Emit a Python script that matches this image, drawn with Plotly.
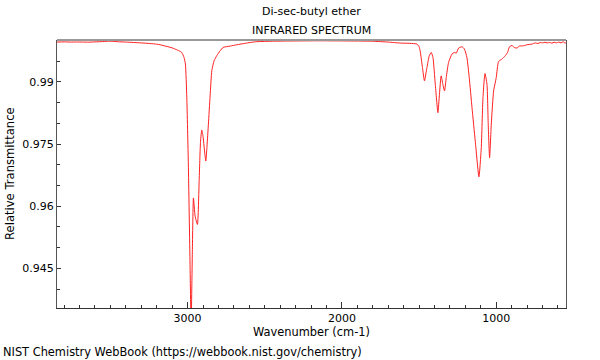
import plotly.graph_objects as go

# Spectrum data (wavenumber in cm-1, relative transmittance)
wavenumber = [3846, 3800, 3760, 3720, 3680, 3640, 3600, 3560, 3520, 3490, 3450, 3400,
              3350, 3300, 3243, 3200, 3178, 3140, 3100, 3070, 3050, 3038, 3023, 3014,
              3005, 2995, 2984, 2977, 2969, 2962, 2951, 2936, 2925, 2916, 2908, 2900,
              2890, 2882, 2874, 2865, 2854, 2843, 2828, 2811, 2789, 2770, 2724, 2681,
              2627, 2595, 2551, 2450, 2350, 2200, 2100, 2000, 1900, 1800, 1700, 1622,
              1560, 1514, 1500, 1493, 1478, 1465, 1449, 1434, 1421, 1410, 1395, 1378,
              1368, 1357, 1346, 1335, 1324, 1309, 1287, 1272, 1259, 1244, 1222, 1206,
              1190, 1175, 1157, 1136, 1112, 1097, 1086, 1073, 1060, 1052, 1043, 1032,
              1017, 1000, 985, 963, 942, 927, 914, 898, 883, 866, 849, 823, 801, 769,
              747, 730, 715, 700, 685, 670, 655, 640, 625, 610, 595, 580, 565, 555, 548]
transmittance = [0.9996, 0.99965, 0.9996, 0.99962, 0.9996, 0.99958, 0.99965, 0.9997, 0.99978, 0.9998, 0.99968, 0.9996,
                 0.9995, 0.9994, 0.99925, 0.9991, 0.99895, 0.9986, 0.9982, 0.99774, 0.9974, 0.9971, 0.9959, 0.9943,
                 0.9862, 0.9702, 0.946, 0.931, 0.949, 0.962, 0.9576, 0.9556, 0.966, 0.9757, 0.9784, 0.9769,
                 0.9733, 0.9709, 0.9745, 0.9798, 0.9866, 0.9927, 0.9951, 0.9963, 0.9975, 0.9983, 0.99864, 0.99895,
                 0.9993, 0.9995, 0.9997, 0.9998, 0.99985, 0.9999, 0.9999, 0.99988, 0.99985, 0.9998, 0.9996, 0.99936,
                 0.9993, 0.99912, 0.9985, 0.9975, 0.99346, 0.99024, 0.99346, 0.99629, 0.99709, 0.99588, 0.98944, 0.98257,
                 0.98702, 0.99145, 0.98944, 0.98782, 0.99104, 0.99467, 0.9967, 0.99709, 0.99694, 0.99815, 0.99847, 0.99791,
                 0.99588, 0.99104, 0.98378, 0.97573, 0.96709, 0.9741, 0.9862, 0.99201, 0.98944, 0.97984, 0.97169, 0.97984,
                 0.98782, 0.99104, 0.99491, 0.99549, 0.99629, 0.99709, 0.99847, 0.99878, 0.9983, 0.99815, 0.99864, 0.99871,
                 0.99895, 0.99912,
                 0.9994, 0.99925, 0.9995, 0.9994, 0.99955, 0.9994, 0.9995, 0.99935, 0.99955, 0.9994, 0.9996, 0.9994, 0.9997, 0.9993, 0.9995]

y_tickvals = [0.945, 0.96, 0.975, 0.99]
y_ticktext = ["0.945", "0.96", "0.975", "0.99"]
x_tickvals = [1000, 2000, 3000]
x_ticktext = ["1000", "2000", "3000"]

FONT = "DejaVu Sans"

fig = go.Figure()
fig.add_trace(go.Scatter(x=wavenumber, y=transmittance, mode="lines",
                         line=dict(color="#ff2020", width=1, shape="spline", smoothing=0.5),
                         hoverinfo="skip", showlegend=False))

fig.update_layout(
    width=600, height=360,
    margin=dict(l=57, r=34, t=40, b=52),
    paper_bgcolor="white", plot_bgcolor="white",
    font=dict(family=FONT, size=11, color="black"),
    showlegend=False,
    xaxis=dict(range=[3846, 548], showgrid=False, zeroline=False,
               showline=True, linecolor="#333333", linewidth=1,
               tickmode="array", tickvals=x_tickvals, ticktext=x_ticktext,
               ticks="inside", ticklen=6, tickcolor="#333333", tickwidth=1,
               minor=dict(ticks="inside", ticklen=3, dtick=100, tick0=0, tickcolor="#333333", tickwidth=1),
               tickfont=dict(family=FONT, size=11, color="black")),
    yaxis=dict(range=[0.93545, 1.0001], showgrid=False, zeroline=False,
               showline=True, linecolor="#555555", linewidth=1, mirror=True,
               tickmode="array", tickvals=y_tickvals, ticktext=y_ticktext,
               ticks="inside", ticklen=4, tickcolor="#333333", tickwidth=1,
               minor=dict(ticks="inside", ticklen=3, dtick=0.005, tick0=0.935, tickcolor="#333333", tickwidth=1),
               tickfont=dict(family=FONT, size=11, color="black")),
)

fig.add_shape(type="line", xref="paper", yref="paper", x0=0, x1=1, y0=1, y1=1,
              line=dict(color="#999999", width=2))

annots = [
    dict(text="Di-sec-butyl ether", x=0.5, y=1 + 28 / 268, xanchor="center", yanchor="middle", size=11),
    dict(text="INFRARED SPECTRUM", x=0.5, y=1 + 10 / 268, xanchor="center", yanchor="middle", size=11),
    dict(text="Wavenumber (cm-1)", x=0.5, y=-24 / 268, xanchor="center", yanchor="middle", size=11.4),
    dict(text="Relative Transmittance", x=-47 / 509, y=0.5, xanchor="center", yanchor="middle", textangle=-90,
         size=11.6),
    dict(text="NIST Chemistry WebBook (https://webbook.nist.gov/chemistry)", x=-56 / 509, y=-44 / 268,
         xanchor="left", yanchor="middle", size=11.4),
]
for a in annots:
    sz = a.pop("size")
    fig.add_annotation(xref="paper", yref="paper", showarrow=False,
                       font=dict(family=FONT, size=sz, color="black"), **a)

fig.write_html("out.html", config={"displayModeBar": False, "staticPlot": True},
               post_script="document.body.style.margin='0';document.body.style.overflow='hidden';")
